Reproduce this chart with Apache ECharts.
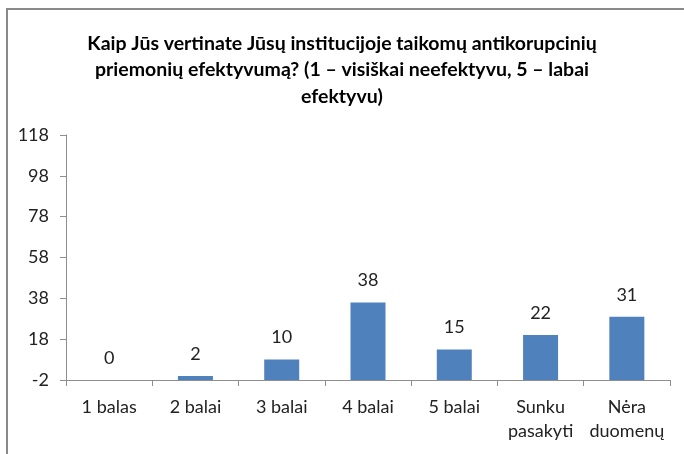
<!DOCTYPE html>
<html>
<head>
<meta charset="utf-8">
<script src="https://cdn.jsdelivr.net/npm/echarts@6/dist/echarts.min.js"></script>
<style>
  html, body { margin: 0; padding: 0; background: #fff; }
  #chart { width: 684px; height: 454px; }
</style>
</head>
<body>
<div id="chart"></div>
<script>
// vertinimo kategorijos
var categories = ['1 balas', '2 balai', '3 balai', '4 balai', '5 balai', 'Sunku\npasakyti', 'Nėra\nduomenų'];
var counts = [0, 2, 10, 38, 15, 22, 31];
// asies žymės (rodomos nuo -2, žingsnis 20)
var yTickLabels = ['-2', '18', '38', '58', '78', '98', '118'];

var font = 'Lato, "Open Sans", sans-serif';

function effectChart(){
    var option = {
        backgroundColor: '#fff',
        animation: false,
        title: {
            text: 'Kaip Jūs vertinate Jūsų institucijoje taikomų antikorupcinių\npriemonių efektyvumą? (1 – visiškai neefektyvu, 5 – labai\nefektyvu)',
            left: 'center',
            top: 25,
            textStyle: {
                fontFamily: font,
                fontSize: 19.5,
                fontWeight: 'bold',
                color: '#000',
                lineHeight: 26.5
            }
        },
        grid: {
            left: 66,
            right: 14,
            top: 135,
            bottom: 74
        },
        graphic: [
            {
                type: 'rect',
                shape: { x: 7, y: 9, width: 720, height: 500 },
                style: { fill: 'none', stroke: '#8a8a8a', lineWidth: 2 }
            }
        ],
        xAxis: {
            type: 'category',
            data: categories,
            axisLine: { onZero: false, lineStyle: { color: '#8e8e8e' } },
            axisTick: { show: true, length: 6, lineStyle: { color: '#8e8e8e' } },
            axisLabel: {
                fontFamily: font,
                fontSize: 18,
                color: '#222',
                margin: 15,
                lineHeight: 24,
                interval: 0
            }
        },
        yAxis: {
            type: 'value',
            min: 0,
            max: 120,
            interval: 20,
            splitLine: { show: false },
            axisLine: { show: true, lineStyle: { color: '#8e8e8e' } },
            axisTick: { show: true, length: 6, lineStyle: { color: '#8e8e8e' } },
            axisLabel: {
                fontFamily: font,
                fontSize: 18,
                color: '#222',
                margin: 17,
                formatter: function (v) { return yTickLabels[Math.round(v / 20)]; }
            }
        },
        series: [
            {
                type: 'bar',
                data: counts,
                barWidth: 35,
                itemStyle: { color: '#4f81bd' },
                label: {
                    show: true,
                    position: 'top',
                    distance: 13,
                    fontFamily: font,
                    fontSize: 18,
                    color: '#222'
                }
            }
        ]
    };
    var myChart = echarts.init(document.getElementById('chart'));
    myChart.setOption(option);
}
effectChart();
</script>
</body>
</html>
